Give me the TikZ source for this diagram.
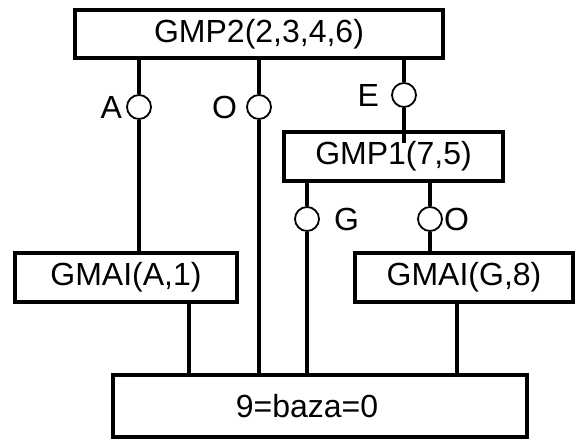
\documentclass[tikz,border=0pt]{standalone}
\usepackage{fontspec}
\setmainfont{Liberation Sans}
\usepackage{tikz}
\usetikzlibrary{positioning}
\tikzset{
  cutie/.style={rectangle, draw=black, line width=3.5pt, fill=white, inner sep=0pt,
    font=\fontsize{32}{38}\selectfont},
  linie/.style={line width=3.5pt, draw=black},
  cerc/.style={circle, draw=black, line width=1.8pt, fill=white, minimum size=24pt, inner sep=0pt},
  etiq/.style={inner sep=0pt, font=\fontsize{32}{38}\selectfont},
}
\begin{document}
\begin{tikzpicture}[x=1pt, y=-1pt]
  \useasboundingbox (0,0) rectangle (579,439);
  \node[cutie, minimum width=368pt, minimum height=48pt] (gmp2) at (259,34) {GMP2(2,3,4,6)};
  \node[cutie, minimum width=219pt, minimum height=49pt] (gmp1) at (393.5,156.5) {GMP1(7,5)};
  \node[cutie, minimum width=222pt, minimum height=49pt] (gmaiA) at (126,277.5) {GMAI(A,1)};
  \node[cutie, minimum width=218pt, minimum height=49pt] (gmaiG) at (464,277.5) {GMAI(G,8)};
  \node[cutie, minimum width=414pt, minimum height=62pt] (baza) at (320,406) {9=baza=0\hspace*{26pt}};
  % cercuri
  \node[cerc] (cA) at (139,107) {};
  \node[cerc] (cO) at (259,107) {};
  \node[cerc] (cE) at (404,95) {};
  \node[cerc] (cG) at (307,219) {};
  \node[cerc] (cO2) at (430,219) {};
  \node[etiq, left=4pt of cA] (eA) {A};
  \node[etiq, left=9pt of cO] (eO) {O};
  \node[etiq, left=12pt of cE] (eE) {E};
  \node[etiq, right=14pt of cG] (eG) {G};
  \node[etiq, right=1pt of cO2] (eO2) {O};
  % legaturi
  \draw[linie] (gmp2.south -| cA) -- (cA.north);
  \draw[linie] (cA.south) -- (gmaiA.north -| cA);
  \draw[linie] (gmp2.south -| cO) -- (cO.north);
  \draw[linie] (cO.south) -- (baza.north -| cO);
  \draw[linie] (gmp2.south -| cE) -- (cE.north);
  \draw[linie] (cE.south) -- ([yshift=-13pt]gmp1.north -| cE);
  \draw[linie] (gmp1.south -| cG) -- (cG.north);
  \draw[linie] (cG.south) -- (baza.north -| cG);
  \draw[linie] (gmp1.south -| cO2) -- (cO2.north);
  \draw[linie] (cO2.south) -- (gmaiG.north -| cO2);
  \coordinate (jA) at (189,0);
  \coordinate (jG) at (457,0);
  \draw[linie] (gmaiA.south -| jA) -- (baza.north -| jA);
  \draw[linie] (gmaiG.south -| jG) -- (baza.north -| jG);
\end{tikzpicture}
\end{document}
